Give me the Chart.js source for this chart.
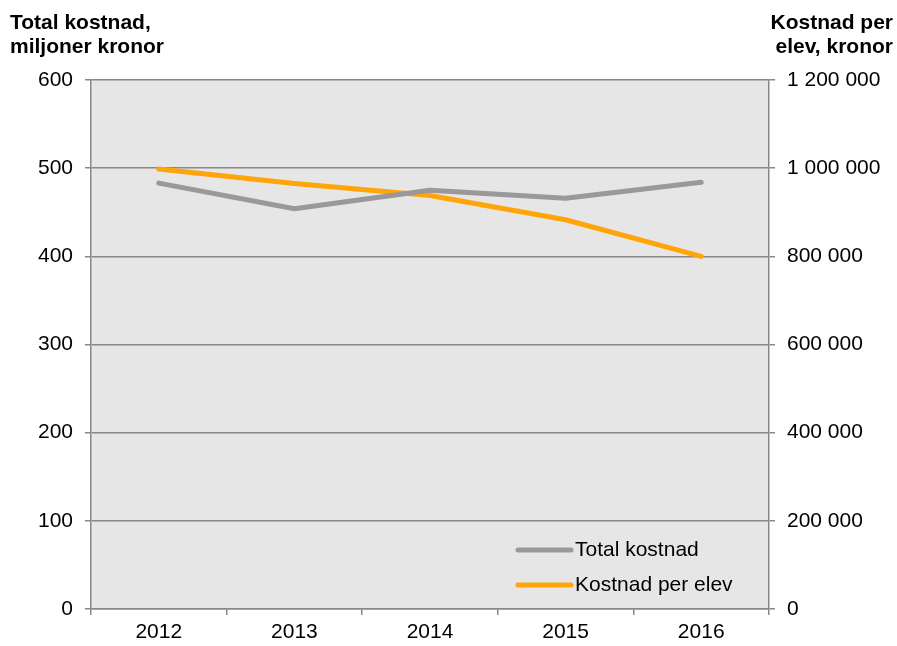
<!DOCTYPE html>
<html><head><meta charset="utf-8">
<script src="https://cdn.jsdelivr.net/npm/chart.js@4/dist/chart.umd.min.js"></script>
<style>html,body{margin:0;padding:0;background:#fff}#wrap{width:897px;height:646px}</style>
</head><body><div id="wrap"><canvas id="c" width="897" height="646"></canvas></div>
<script>
const years = ['2012','2013','2014','2015','2016'];
const totalKostnad = [483, 454, 475, 466, 484];
const kostnadPerElev = [998000, 965000, 938000, 883000, 800000];
const leftTicks = [0,100,200,300,400,500,600];
const rightTicks = [0,200000,400000,600000,800000,1000000,1200000];
const seriesNames = ['Total kostnad','Kostnad per elev'];
const leftTitle = ['Total kostnad,','miljoner kronor'];
const rightTitle = ['Kostnad per','elev, kronor'];

const FONT = '"Liberation Sans", Arial, sans-serif';
const fmt = v => String(v).replace(/\B(?=(\d{3})+(?!\d))/g, ' ');

const bgPlugin = {
  id:'bg',
  beforeDraw(chart){
    const {ctx, chartArea:a} = chart;
    ctx.save(); ctx.fillStyle='#e6e6e6';
    ctx.fillRect(a.left,a.top,a.right-a.left,a.bottom-a.top);
    ctx.restore();
  },
  afterDraw(chart){
    const {ctx} = chart;
    ctx.save();
    ctx.fillStyle='#000';
    ctx.font='bold 21px '+FONT;
    ctx.textBaseline='alphabetic';
    ctx.textAlign='left';
    ctx.fillText(leftTitle[0],10,29);
    ctx.fillText(leftTitle[1],10,53);
    ctx.textAlign='right';
    ctx.fillText(rightTitle[0],893,29);
    ctx.fillText(rightTitle[1],893,53);
    // legend
    ctx.font='21px '+FONT;
    ctx.textAlign='left'; ctx.textBaseline='middle';
    chart.data.datasets.forEach((ds,i)=>{
      const y = 550 + i*35;
      ctx.strokeStyle=ds.borderColor; ctx.lineWidth=5; ctx.lineCap='round';
      ctx.beginPath(); ctx.moveTo(518,y); ctx.lineTo(571,y); ctx.stroke();
      ctx.fillStyle='#000';
      ctx.fillText(ds.label,575,y);
    });
    ctx.restore();
  }
};

new Chart(document.getElementById('c'), {
  type:'line',
  data:{
    labels: years,
    datasets:[
      {label:seriesNames[0], data: totalKostnad, yAxisID:'y', borderColor:'#999999', borderWidth:5, pointRadius:0, borderCapStyle:'round', borderJoinStyle:'round', tension:0},
      {label:seriesNames[1], data: kostnadPerElev, yAxisID:'y2', borderColor:'#ffa50a', borderWidth:5, pointRadius:0, borderCapStyle:'round', borderJoinStyle:'round', tension:0}
    ]
  },
  options:{
    responsive:false, animation:false,
    layout:{padding:{top:80, left:0, right:0, bottom:0}},
    plugins:{legend:{display:false}, tooltip:{enabled:false}},
    scales:{
      x:{
        offset:true,
        grid:{offset:true, drawOnChartArea:false, drawTicks:true, tickLength:6, color:'#888', lineWidth:1.5},
        border:{display:true, color:'#888', width:1.5},
        ticks:{color:'#000', font:{family:FONT, size:21}, padding:5},
        afterFit(s){ s.height = 37; }
      },
      y:{
        position:'left', min:0, max:600,
        afterBuildTicks(s){ s.ticks = leftTicks.map(v=>({value:v})); },
        grid:{color:'#888', lineWidth:1.5, tickLength:6},
        border:{display:true, color:'#888', width:1.5},
        ticks:{color:'#000', font:{family:FONT, size:21}, padding:12},
        afterFit(s){ s.width = 91; }
      },
      y2:{
        position:'right', min:0, max:1200000,
        afterBuildTicks(s){ s.ticks = rightTicks.map(v=>({value:v})); },
        grid:{drawOnChartArea:false, color:'#888', lineWidth:1.5, tickLength:6},
        border:{display:true, color:'#888', width:1.5},
        ticks:{color:'#000', font:{family:FONT, size:21}, padding:12, callback:v=>fmt(v)},
        afterFit(s){ s.width = 128; }
      }
    }
  },
  plugins:[bgPlugin]
});
</script></body></html>
